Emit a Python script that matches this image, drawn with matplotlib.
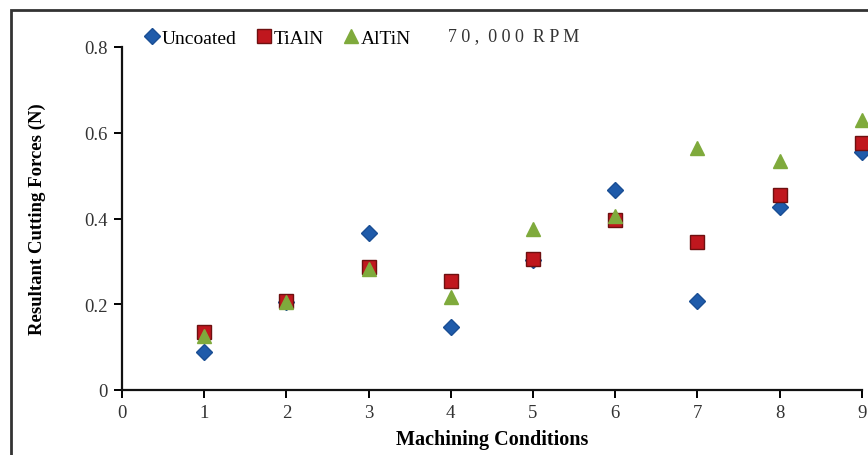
import matplotlib
matplotlib.use("Agg")
import matplotlib.pyplot as plt
from matplotlib.patches import Rectangle

conditions = [1, 2, 3, 4, 5, 6, 7, 8, 9]
uncoated = [0.088, 0.205, 0.367, 0.148, 0.303, 0.466, 0.208, 0.426, 0.556]
tialn = [0.135, 0.208, 0.286, 0.255, 0.305, 0.397, 0.345, 0.455, 0.577]
altin = [0.127, 0.206, 0.283, 0.216, 0.376, 0.406, 0.565, 0.535, 0.629]
xticks = [0, 1, 2, 3, 4, 5, 6, 7, 8, 9]
yticks = [0, 0.2, 0.4, 0.6, 0.8]
ytick_labels = ["0", "0.2", "0.4", "0.6", "0.8"]

plt.rcParams['font.family'] = ['Liberation Serif', 'DejaVu Serif']

fig = plt.figure(figsize=(8.68, 4.56), dpi=100)
ax = fig.add_axes([122/868, 1-391/456, (861.7-122)/868, (391-48)/456])

ax.plot(conditions, uncoated, linestyle='none', marker='D', markersize=8,
        color='#1F5BAA', markeredgecolor='#1A4E94', label='Uncoated', clip_on=False, zorder=3)
ax.plot(conditions, tialn, linestyle='none', marker='s', markersize=10,
        color='#C0171E', markeredgecolor='#6E1010', label='TiAlN', clip_on=False, zorder=4)
ax.plot(conditions, altin, linestyle='none', marker='^', markersize=10.5,
        color='#7FAA3C', markeredgecolor='#7FAA3C', label='AlTiN', clip_on=False, zorder=5)

ax.set_xlim(0, 9)
ax.set_ylim(0, 0.8)
ax.set_xticks(xticks)
ax.set_yticks(yticks)
ax.set_yticklabels(ytick_labels)
for s in ['top', 'right']:
    ax.spines[s].set_visible(False)
for s in ['left', 'bottom']:
    ax.spines[s].set_linewidth(1.6)
    ax.spines[s].set_color('#111111')
ax.tick_params(axis='both', direction='out', length=6, width=1.4, labelsize=13.5,
               labelcolor='#333333', pad=4)

ax.set_xlabel('Machining Conditions', fontsize=14.5, fontweight='bold', labelpad=6)
ax.set_ylabel('Resultant Cutting Forces (N)', fontsize=13.5, fontweight='bold', labelpad=28)

leg = ax.legend(loc='center left', bbox_to_anchor=((142-122)/740, 1+(48-39)/343), ncol=3,
                frameon=False, fontsize=14, handletextpad=0.0, columnspacing=0.9,
                handlelength=1.0, borderaxespad=0, borderpad=0)
ax.text(448, 456-37, '7 0 ,  0 0 0  R P M', transform=None, fontsize=13,
        color='#333333', va='center', ha='left')

fig.patches.append(Rectangle((11/868, -0.1), 1.2, 1-11/456+0.1, transform=fig.transFigure,
                             fill=False, edgecolor='#333333', linewidth=2))

fig.savefig('out.png', dpi=100)
